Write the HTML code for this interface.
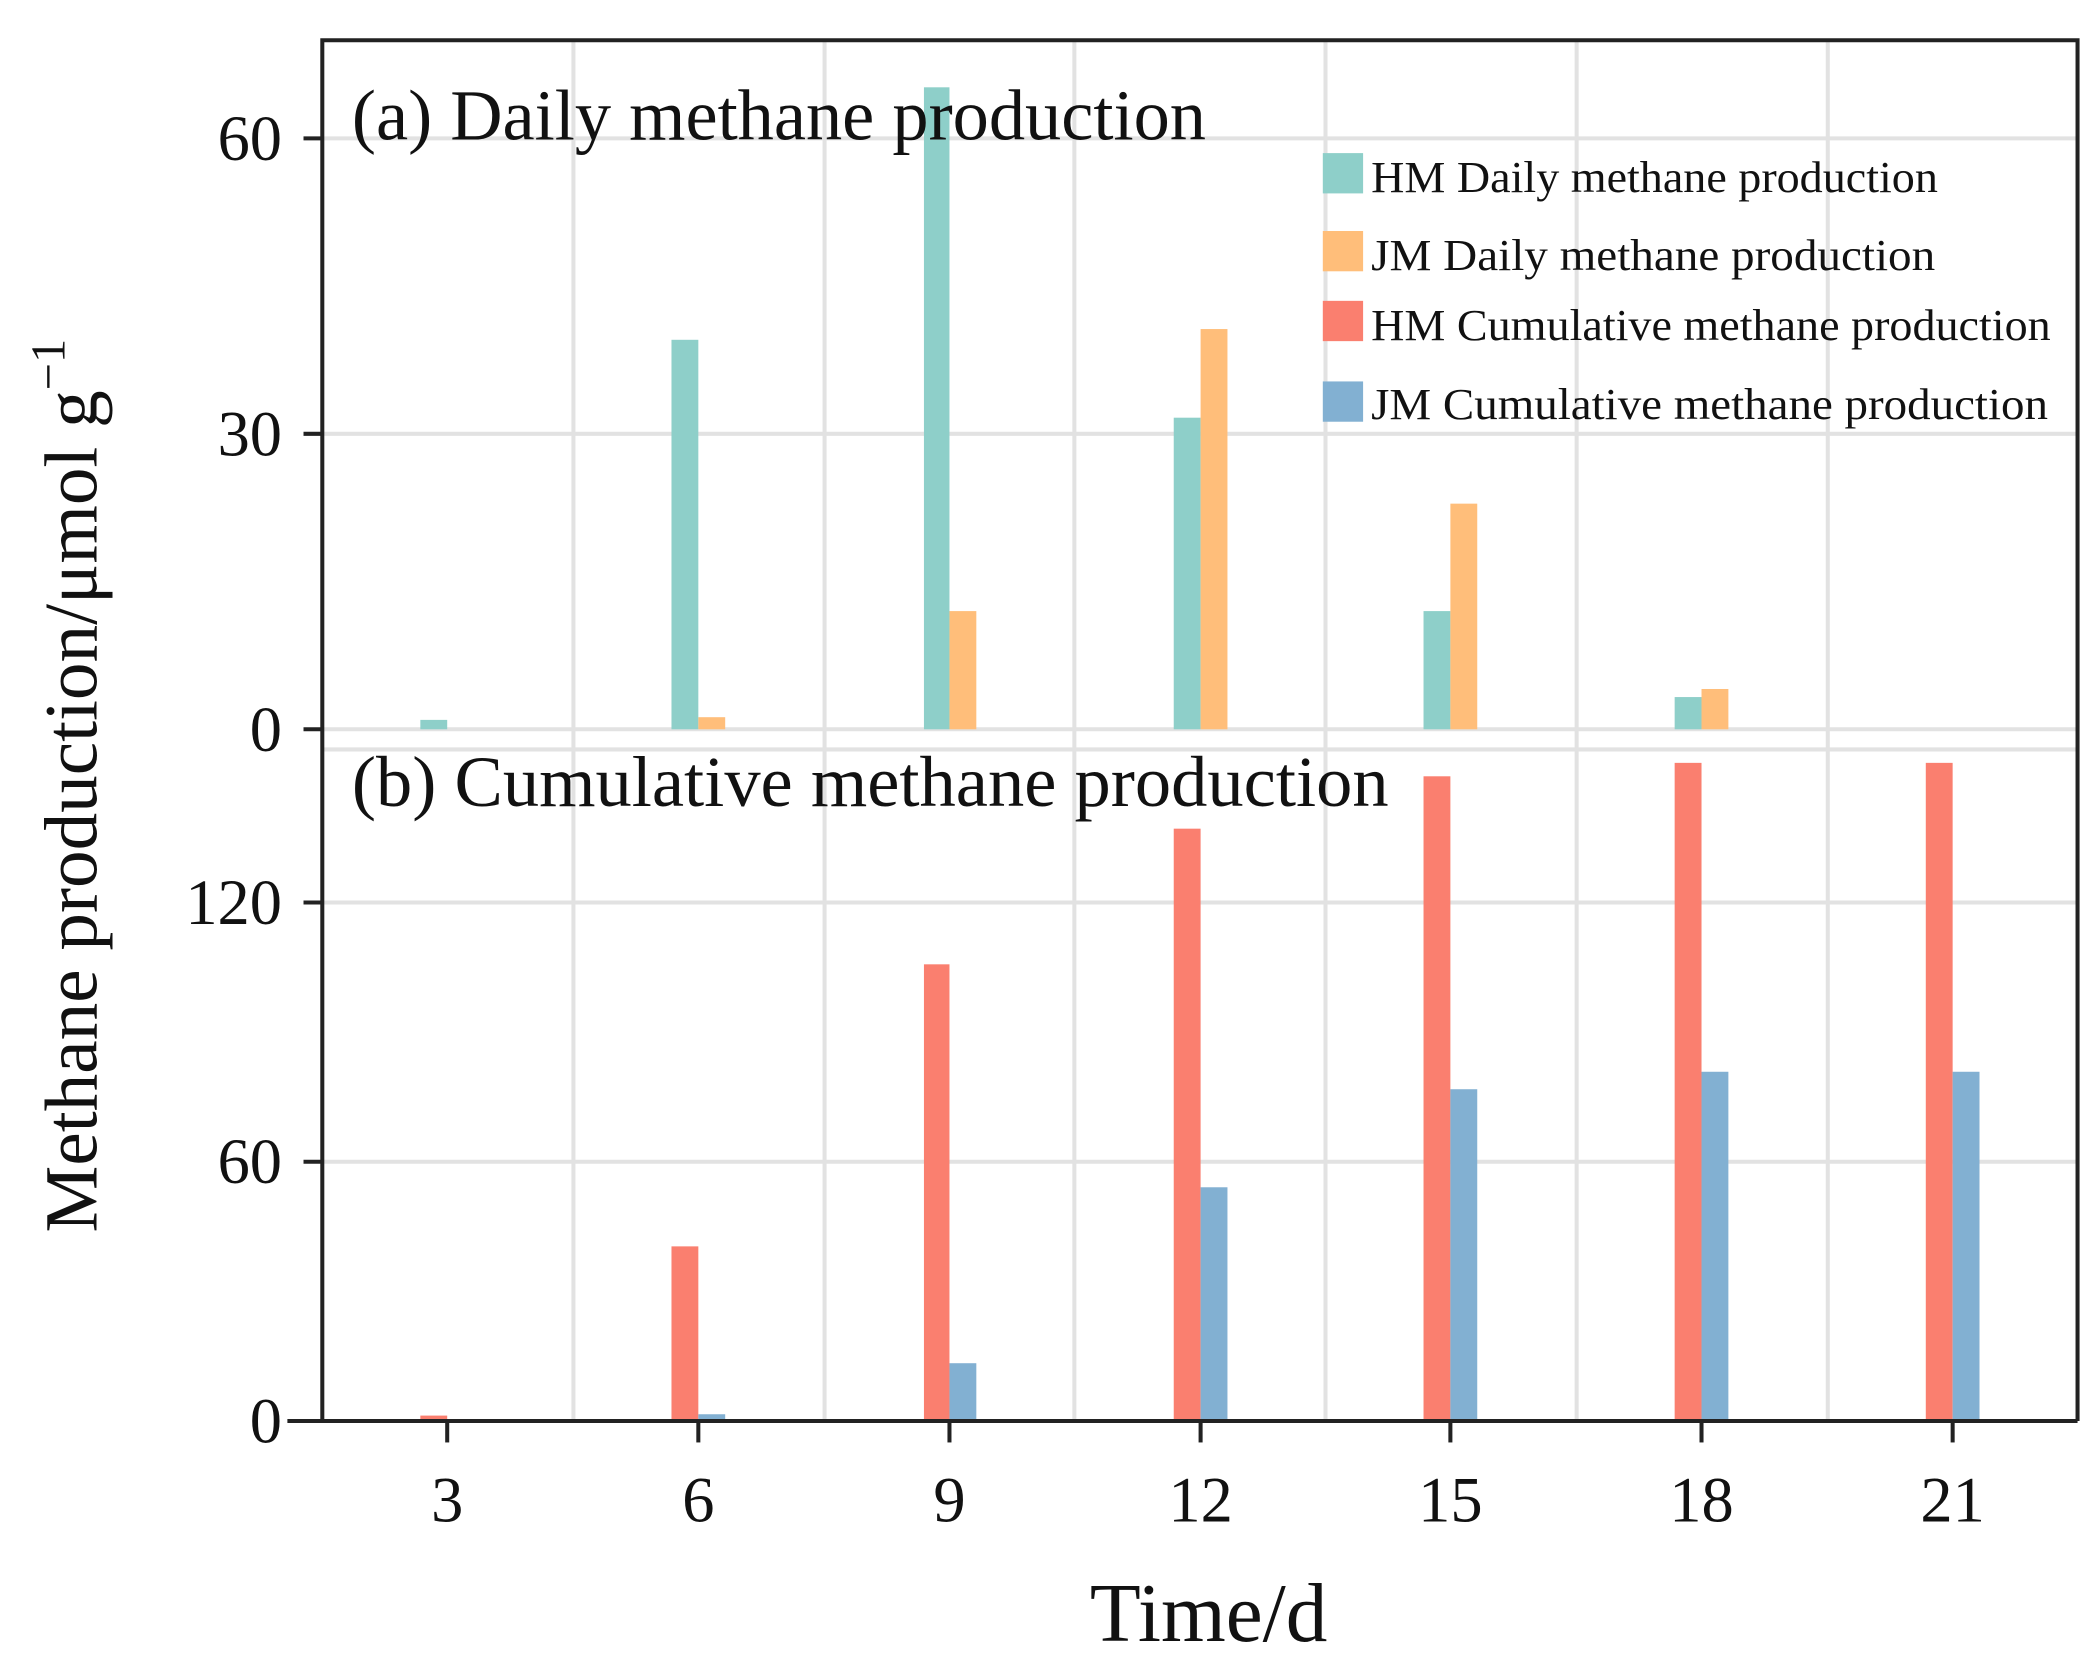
<!DOCTYPE html>
<html><head><meta charset="utf-8"><style>html,body{margin:0;padding:0;background:#fff}svg{display:block}</style></head>
<body>
<svg width="2095" height="1656" viewBox="0 0 1560 1233" preserveAspectRatio="none" xmlns="http://www.w3.org/2000/svg" font-family="Liberation Serif, serif">
<rect width="1560" height="1233" fill="#fff"/>
<g stroke="#e2e2e2" stroke-width="3">
<line x1="427" y1="30" x2="427" y2="1058"/><line x1="614" y1="30" x2="614" y2="1058"/>
<line x1="800" y1="30" x2="800" y2="1058"/><line x1="987" y1="30" x2="987" y2="1058"/>
<line x1="1174" y1="30" x2="1174" y2="1058"/><line x1="1361" y1="30" x2="1361" y2="1058"/>
<line x1="240" y1="103" x2="1547" y2="103"/><line x1="240" y1="323" x2="1547" y2="323"/>
<line x1="240" y1="543" x2="1547" y2="543"/>
<line x1="240" y1="672" x2="1547" y2="672"/><line x1="240" y1="865" x2="1547" y2="865"/>
<line x1="240" y1="558" x2="1547" y2="558"/>
</g>
<g>
<rect x="313" y="536" width="20" height="7" fill="#8ecfc9"/>
<rect x="500" y="253" width="20" height="290" fill="#8ecfc9"/>
<rect x="688" y="65" width="19" height="478" fill="#8ecfc9"/>
<rect x="874" y="311" width="20" height="232" fill="#8ecfc9"/>
<rect x="1060" y="455" width="20" height="88" fill="#8ecfc9"/>
<rect x="1247" y="519" width="20" height="24" fill="#8ecfc9"/>
<rect x="520" y="534" width="20" height="9" fill="#ffbe7a"/>
<rect x="707" y="455" width="20" height="88" fill="#ffbe7a"/>
<rect x="894" y="245" width="20" height="298" fill="#ffbe7a"/>
<rect x="1080" y="375" width="20" height="168" fill="#ffbe7a"/>
<rect x="1267" y="513" width="20" height="30" fill="#ffbe7a"/>
<rect x="313" y="1054" width="20" height="4" fill="#fa7f6f"/>
<rect x="500" y="928" width="20" height="130" fill="#fa7f6f"/>
<rect x="688" y="718" width="19" height="340" fill="#fa7f6f"/>
<rect x="874" y="617" width="20" height="441" fill="#fa7f6f"/>
<rect x="1060" y="578" width="20" height="480" fill="#fa7f6f"/>
<rect x="1247" y="568" width="20" height="490" fill="#fa7f6f"/>
<rect x="1434" y="568" width="20" height="490" fill="#fa7f6f"/>
<rect x="520" y="1053" width="20" height="5" fill="#82b0d2"/>
<rect x="707" y="1015" width="20" height="43" fill="#82b0d2"/>
<rect x="894" y="884" width="20" height="174" fill="#82b0d2"/>
<rect x="1080" y="811" width="20" height="247" fill="#82b0d2"/>
<rect x="1267" y="798" width="20" height="260" fill="#82b0d2"/>
<rect x="1454" y="798" width="20" height="260" fill="#82b0d2"/>
</g>
<g stroke="#222" stroke-width="3" fill="none">
<polyline points="240,1058 240,30 1547,30 1547,1058"/>
<line x1="214" y1="1058" x2="1547" y2="1058"/>
<line x1="226" y1="103" x2="240" y2="103"/><line x1="226" y1="323" x2="240" y2="323"/><line x1="226" y1="543" x2="240" y2="543"/>
<line x1="226" y1="672" x2="240" y2="672"/><line x1="226" y1="865" x2="240" y2="865"/>
<line x1="333" y1="1058" x2="333" y2="1074"/><line x1="520" y1="1058" x2="520" y2="1074"/><line x1="707" y1="1058" x2="707" y2="1074"/>
<line x1="894" y1="1058" x2="894" y2="1074"/><line x1="1080" y1="1058" x2="1080" y2="1074"/><line x1="1267" y1="1058" x2="1267" y2="1074"/><line x1="1454" y1="1058" x2="1454" y2="1074"/>
</g>
<g font-size="48" fill="#111" text-anchor="end">
<text x="210" y="119">60</text><text x="210" y="339">30</text><text x="210" y="559">0</text>
<text x="210" y="688">120</text><text x="210" y="881">60</text><text x="210" y="1074">0</text>
</g>
<g font-size="48" fill="#111" text-anchor="middle">
<text x="333" y="1133">3</text><text x="520" y="1133">6</text><text x="707" y="1133">9</text><text x="894" y="1133">12</text>
<text x="1080" y="1133">15</text><text x="1267" y="1133">18</text><text x="1454" y="1133">21</text>
</g>
<text x="262" y="104" font-size="54" fill="#111" textLength="636" lengthAdjust="spacingAndGlyphs">(a) Daily methane production</text>
<text x="262" y="600" font-size="54" fill="#111" textLength="772" lengthAdjust="spacingAndGlyphs">(b) Cumulative methane production</text>
<text x="900" y="1222" font-size="62" fill="#111" text-anchor="middle">Time/d</text>
<text transform="translate(72,585) rotate(-90)" font-size="56" fill="#111" text-anchor="middle">Methane production/μmol g<tspan dy="-24" font-size="36">−1</tspan></text>
<rect x="985" y="114" width="30" height="30" fill="#8ecfc9"/>
<rect x="985" y="172" width="30" height="30" fill="#ffbe7a"/>
<rect x="985" y="224" width="30" height="30" fill="#fa7f6f"/>
<rect x="985" y="284" width="30" height="30" fill="#82b0d2"/>
<g font-size="33" fill="#111" lengthAdjust="spacingAndGlyphs">
<text x="1021" y="143" textLength="422" lengthAdjust="spacingAndGlyphs">HM Daily methane production</text>
<text x="1021" y="201" textLength="420" lengthAdjust="spacingAndGlyphs">JM  Daily methane production</text>
<text x="1021" y="253" textLength="506" lengthAdjust="spacingAndGlyphs">HM Cumulative methane production</text>
<text x="1021" y="312" textLength="504" lengthAdjust="spacingAndGlyphs">JM  Cumulative methane production</text>
</g>
</svg>
</body></html>
